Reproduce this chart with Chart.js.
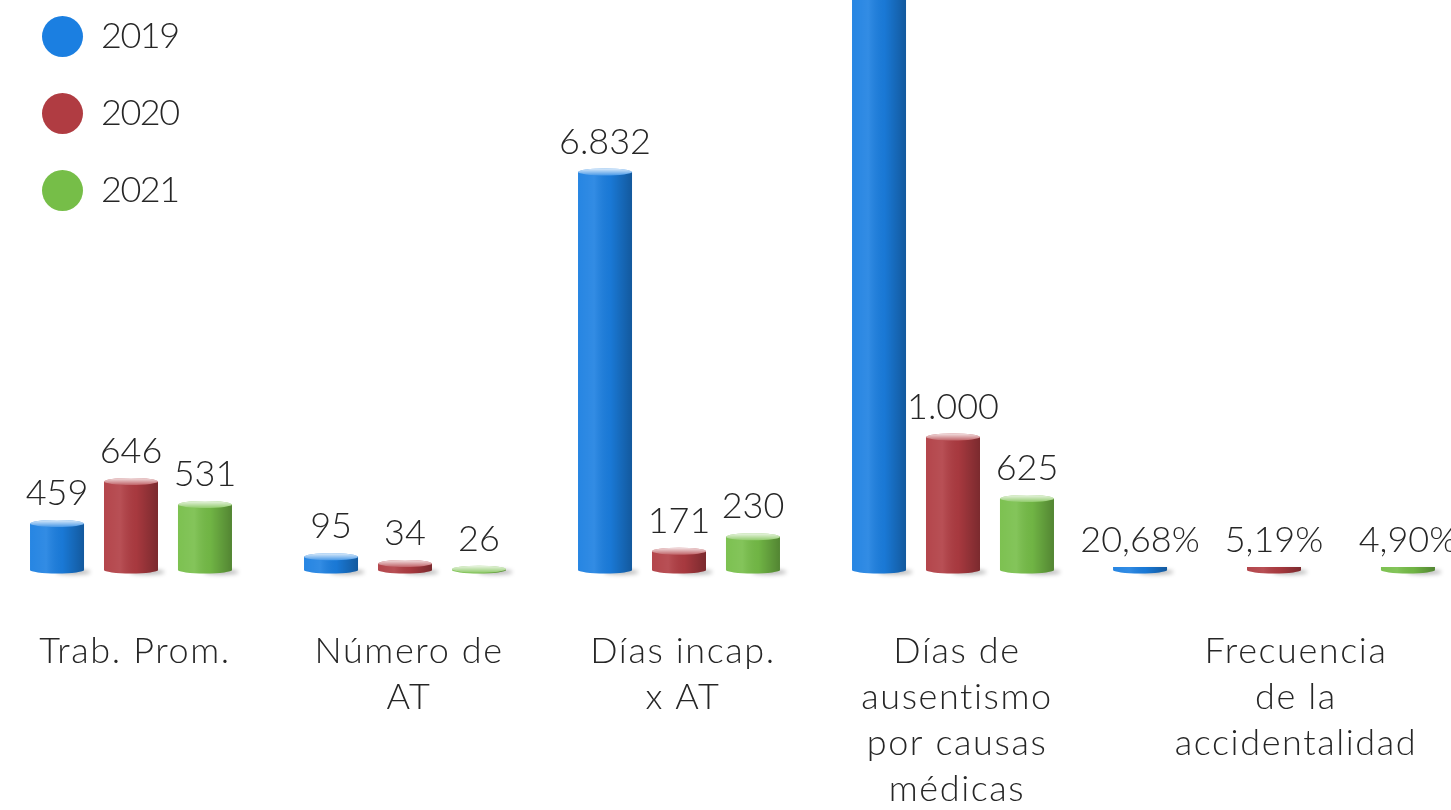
<!DOCTYPE html>
<html lang="es">
<head>
<meta charset="UTF-8">
<title>Indicadores de accidentalidad</title>
<script src="https://cdn.jsdelivr.net/npm/chart.js@4.4.1/dist/chart.umd.min.js"></script>
<style>
  html, body { margin: 0; padding: 0; background: #fff; overflow: hidden; width: 1451px; height: 810px; }
  #wrapA { position: absolute; left: -6px; top: 0; width: 1096px; height: 810px; }
  #wrapB { position: absolute; left: 1070px; top: 0; width: 408px; height: 810px; }
  #legend { position: absolute; left: 42px; top: 16px; margin: 0; padding: 0; list-style: none;
            font: 300 36px Lato, sans-serif; color: #262626; letter-spacing: -1.5px; }
  #legend li { display: flex; align-items: center; height: 41px; margin-bottom: 36px; }
  #legend .dot { width: 41px; height: 41px; border-radius: 50%; margin-right: 18px; }
  #legend .txt { position: relative; top: -3px; }
</style>
</head>
<body>
<div id="wrapA"><canvas id="chartA"></canvas></div>
<div id="wrapB"><canvas id="chartB"></canvas></div>
<ul id="legend"></ul>

<script>
// categorias (eje x)
const categories = [
  ['Trab. Prom.'],
  ['Número de', 'AT'],
  ['Días incap.', 'x AT'],
  ['Días de', 'ausentismo', 'por causas', 'médicas']
];
const lastCategory = ['Frecuencia', 'de la', 'accidentalidad'];
const years = ['2019', '2020', '2021'];
const colors = ['#1b7fe1', '#b03c42', '#76be48'];

// altura de cada barra (no es proporcional a las cifras)
const heights2019 = [46.5, 13.2, 398, 640];
const heights2020 = [88.5, 6.5, 18.8, 133];
const heights2021 = [65.5, 0.8, 33.2, 71.5];
const freqHeights = [3, 3, 3];

// cifras escritas sobre las barras
const labels2019 = ['459', '95', '6.832', ''];
const labels2020 = ['646', '34', '171', '1.000'];
const labels2021 = ['531', '26', '230', '625'];
const freqLabels = ['20,68%', '5,19%', '4,90%'];

const TEXT = '#262626';
const FONT = 'Lato, sans-serif';
const RY = 3.5; // semieje de la elipse de la tapa

const cylinderPlugin = {
  id: 'cylinder',
  beforeDraw(chart) {
    // letras algo mas abiertas en las etiquetas del eje
    chart.ctx.letterSpacing = '1.6px';
  },
  beforeDatasetsDraw(chart) {
    // sombra suave a la derecha de la base
    const ctx = chart.ctx;
    ctx.save();
    ctx.filter = 'blur(2px)';
    chart.data.datasets.forEach((ds, i) => {
      chart.getDatasetMeta(i).data.forEach(bar => {
        const w = bar.width;
        ctx.fillStyle = 'rgba(0,0,0,0.3)';
        ctx.beginPath();
        ctx.ellipse(bar.x + w * 0.3, bar.base + 2, w * 0.32, 2.5, 0, 0, Math.PI * 2);
        ctx.fill();
      });
    });
    ctx.restore();
  },
  afterDatasetsDraw(chart) {
    const ctx = chart.ctx;
    const area = chart.chartArea;
    chart.data.datasets.forEach((ds, i) => {
      const cap = ds.cap !== false;
      chart.getDatasetMeta(i).data.forEach((bar, j) => {
        const w = bar.width;
        const left = bar.x - w / 2;
        const top = Math.max(bar.y, area.top);
        ctx.save();

        // fondo redondeado
        ctx.beginPath();
        ctx.moveTo(left + w, bar.base);
        ctx.ellipse(bar.x, bar.base, w / 2, RY, 0, 0, Math.PI);
        ctx.fillStyle = ds.backgroundColor;
        ctx.fill();

        // sombreado horizontal del cilindro
        const g = ctx.createLinearGradient(left, 0, left + w, 0);
        g.addColorStop(0, 'rgba(255,255,255,0.05)');
        g.addColorStop(0.3, 'rgba(255,255,255,0.1)');
        g.addColorStop(0.6, 'rgba(0,0,0,0.05)');
        g.addColorStop(1, 'rgba(0,0,0,0.3)');
        ctx.beginPath();
        ctx.rect(left, top, w, bar.base - top);
        ctx.moveTo(left + w, bar.base);
        ctx.ellipse(bar.x, bar.base, w / 2, RY, 0, 0, Math.PI);
        ctx.fillStyle = g;
        ctx.fill();

        if (bar.y >= area.top) {
          if (cap) {
            // tapa superior
            ctx.beginPath();
            ctx.ellipse(bar.x, bar.y, w / 2, RY, 0, 0, Math.PI * 2);
            ctx.fillStyle = ds.backgroundColor;
            ctx.fill();
            const cg = ctx.createLinearGradient(0, bar.y - RY, 0, bar.y + RY);
            cg.addColorStop(0, 'rgba(255,255,255,0.85)');
            cg.addColorStop(1, 'rgba(255,255,255,0.2)');
            ctx.fillStyle = cg;
            ctx.fill();
          }

          const txt = ds.valueLabels[j];
          if (txt) {
            ctx.letterSpacing = '0px';
            ctx.font = '300 36px ' + FONT;
            ctx.fillStyle = TEXT;
            ctx.textAlign = 'center';
            ctx.textBaseline = 'alphabetic';
            ctx.fillText(txt, bar.x, (cap ? bar.y - RY : bar.y) - 15);
          }
        }
        ctx.restore();
      });
    });
  }
};

function chartOptions(labelOffset) {
  return {
    responsive: true,
    maintainAspectRatio: false,
    animation: false,
    layout: { padding: 0 },
    plugins: { legend: { display: false }, tooltip: { enabled: false } },
    scales: {
      x: {
        grid: { display: false, drawTicks: true, tickLength: 58 },
        border: { display: false },
        ticks: {
          color: TEXT,
          font: { family: FONT, size: 36, weight: 300, lineHeight: 1.28 },
          padding: 0,
          autoSkip: false,
          maxRotation: 0,
          labelOffset: labelOffset
        },
        afterFit: scale => { scale.height = 240; }
      },
      y: { display: false, min: 0, max: 570 }
    }
  };
}

const seriesA = [heights2019, heights2020, heights2021];
const valueLabelsA = [labels2019, labels2020, labels2021];

const chartA = new Chart(document.getElementById('chartA'), {
  type: 'bar',
  data: {
    labels: categories,
    datasets: years.map((y, i) => ({
      label: y,
      data: seriesA[i],
      backgroundColor: colors[i],
      valueLabels: valueLabelsA[i],
      categoryPercentage: 0.81,
      barPercentage: 0.73
    }))
  },
  options: chartOptions(4),
  plugins: [cylinderPlugin]
});

new Chart(document.getElementById('chartB'), {
  type: 'bar',
  data: {
    labels: [lastCategory],
    datasets: years.map((y, i) => ({
      label: y,
      data: [freqHeights[i]],
      backgroundColor: colors[i],
      valueLabels: [freqLabels[i]],
      cap: false,
      categoryPercentage: 0.985,
      barPercentage: 0.403
    }))
  },
  options: chartOptions(22),
  plugins: [cylinderPlugin]
});

// leyenda en HTML a partir de los datasets
const legend = document.getElementById('legend');
chartA.data.datasets.forEach(ds => {
  const li = document.createElement('li');
  li.innerHTML = '<span class="dot" style="background:' + ds.backgroundColor + '"></span>' +
                 '<span class="txt">' + ds.label + '</span>';
  legend.appendChild(li);
});
</script>
</body>
</html>
